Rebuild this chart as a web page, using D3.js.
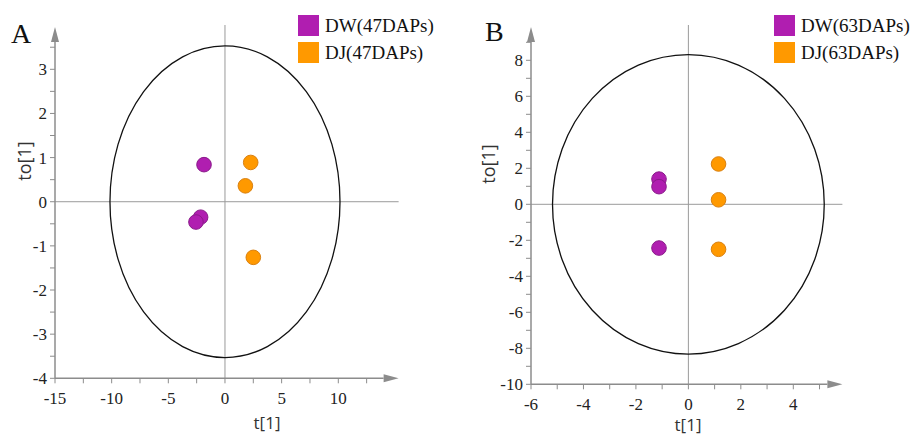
<!DOCTYPE html>
<html lang="en">
<head>
    <meta charset="UTF-8">
    <title>OPLS-DA score plots</title>
    <script src="https://d3js.org/d3.v7.min.js"></script>
    <style>
        body { margin: 0; background: #fff; }
        svg { display: block; }
    </style>
</head>
<body>
    <svg id="chart"></svg>

    <script>
        // Panel A: 47 DAPs scores
        const scoresA_DW = [[-1.85, 0.84], [-2.15, -0.35], [-2.56, -0.46]];
        const scoresA_DJ = [[2.27, 0.89], [1.80, 0.36], [2.50, -1.26]];
        const legendA = ["DW(47DAPs)", "DJ(47DAPs)"];
        const xTicksA = [-15, -10, -5, 0, 5, 10];
        const yTicksA = [-4, -3, -2, -1, 0, 1, 2, 3];
        const ellipseA = [10.15, 3.53];   // t[1], to[1] radii of Hotelling T2 ellipse

        // Panel B: 63 DAPs scores
        const scoresB_DW = [[-1.12, 1.40], [-1.12, 0.98], [-1.12, -2.43]];
        const scoresB_DJ = [[1.15, 2.24], [1.15, 0.25], [1.15, -2.50]];
        const legendB = ["DW(63DAPs)", "DJ(63DAPs)"];
        const xTicksB = [-6, -4, -2, 0, 2, 4];
        const yTicksB = [-10, -8, -6, -4, -2, 0, 2, 4, 6, 8];
        const ellipseB = [5.18, 8.32];

        const colors = ["#b01eb0", "#ff9900"];
        const strokes = ["#8a1a8a", "#d98010"];

        const width = 910, height = 437;
        const svg = d3.select("#chart").attr("width", width).attr("height", height);

        const panels = [
            {
                letter: "A", letterPos: [11, 43],
                xDomain: [-15, 10], xRange: [55, 338.3], xEnd: 14, xMinor: 2.5,
                yDomain: [-4, 3], yRange: [378.3, 69.3], yEnd: 3.5, yMinor: 0.5,
                xTicks: xTicksA, yTicks: yTicksA, ellipse: ellipseA,
                series: [scoresA_DW, scoresA_DJ], legend: legendA, legendX: 298,
                xTitle: [267, 429], yTitle: [25, 161]
            },
            {
                letter: "B", letterPos: [485, 41],
                xDomain: [-6, 4], xRange: [531, 793.3], xEnd: 5.3, xMinor: 1,
                yDomain: [-10, 8], yRange: [384.3, 60.3], yEnd: 9, yMinor: 1,
                xTicks: xTicksB, yTicks: yTicksB, ellipse: ellipseB,
                series: [scoresB_DW, scoresB_DJ], legend: legendB, legendX: 774,
                xTitle: [688, 431], yTitle: [489, 164]
            }
        ];

        panels.forEach(p => {
            const x = d3.scaleLinear().domain(p.xDomain).range(p.xRange);
            const y = d3.scaleLinear().domain(p.yDomain).range(p.yRange);
            const g = svg.append("g");
            const x0 = x(p.xDomain[0]), y0 = y(p.yDomain[0]);
            const axisColor = "#8c8c8c";

            // crosshair at origin
            const xAxisEnd = x(p.xEnd) + 15;
            g.append("line")
                .attr("x1", x(0)).attr("x2", x(0))
                .attr("y1", 25).attr("y2", y0)
                .attr("stroke", "#9a9a9a").attr("stroke-width", 1);
            g.append("line")
                .attr("x1", x0).attr("x2", xAxisEnd)
                .attr("y1", y(0)).attr("y2", y(0))
                .attr("stroke", "#9a9a9a").attr("stroke-width", 1);

            // ellipse
            g.append("ellipse")
                .attr("cx", x(0)).attr("cy", y(0))
                .attr("rx", x(p.ellipse[0]) - x(0))
                .attr("ry", y(0) - y(p.ellipse[1]))
                .attr("fill", "none").attr("stroke", "#111").attr("stroke-width", 1.3);

            // x axis line + arrow
            g.append("line")
                .attr("x1", x0).attr("x2", x(p.xEnd))
                .attr("y1", y0).attr("y2", y0)
                .attr("stroke", axisColor).attr("stroke-width", 1.5);
            g.append("path")
                .attr("d", `M${x(p.xEnd)},${y0 - 4}L${xAxisEnd},${y0}L${x(p.xEnd)},${y0 + 4}Z`)
                .attr("fill", axisColor);

            // y axis line + arrow
            const yTop = 42;
            g.append("line")
                .attr("x1", x0).attr("x2", x0)
                .attr("y1", y0).attr("y2", yTop)
                .attr("stroke", axisColor).attr("stroke-width", 1.5);
            g.append("path")
                .attr("d", `M${x0 - 4},${yTop}L${x0},${yTop - 15}L${x0 + 4},${yTop}Z`)
                .attr("fill", axisColor);

            // x ticks (major + minor)
            const xMinorTicks = d3.range(p.xDomain[0], p.xEnd + 1e-9, p.xMinor);
            g.selectAll(".xt").data(xMinorTicks).enter().append("line")
                .attr("x1", d => x(d)).attr("x2", d => x(d))
                .attr("y1", y0).attr("y2", y0 + 5)
                .attr("stroke", axisColor).attr("stroke-width", 1);
            g.selectAll(".xl").data(p.xTicks).enter().append("text")
                .attr("x", d => x(d)).attr("y", y0 + 26)
                .attr("text-anchor", "middle")
                .attr("font-family", "Liberation Serif, serif")
                .attr("font-size", "17px").attr("fill", "#222")
                .text(d => d);

            // y ticks (major + minor)
            const yMinorTicks = d3.range(p.yDomain[0], p.yEnd + 1e-9, p.yMinor);
            g.selectAll(".yt").data(yMinorTicks).enter().append("line")
                .attr("x1", x0 - 5).attr("x2", x0)
                .attr("y1", d => y(d)).attr("y2", d => y(d))
                .attr("stroke", axisColor).attr("stroke-width", 1);
            g.selectAll(".yl").data(p.yTicks).enter().append("text")
                .attr("x", x0 - 8).attr("y", d => y(d) + 6)
                .attr("text-anchor", "end")
                .attr("font-family", "Liberation Serif, serif")
                .attr("font-size", "17px").attr("fill", "#222")
                .text(d => d);

            // points
            p.series.forEach((s, i) => {
                g.selectAll(".pt" + i).data(s).enter().append("circle")
                    .attr("cx", d => x(d[0])).attr("cy", d => y(d[1]))
                    .attr("r", 7.3)
                    .attr("fill", colors[i]).attr("stroke", strokes[i]).attr("stroke-width", 1);
            });

            // axis titles
            g.append("text")
                .attr("x", p.xTitle[0]).attr("y", p.xTitle[1])
                .attr("text-anchor", "middle")
                .attr("font-family", "Open Sans, sans-serif")
                .attr("font-size", "17px").attr("fill", "#333")
                .text("t[1]");
            g.append("text")
                .attr("transform", `translate(${p.yTitle[0] + 6},${p.yTitle[1]}) rotate(-90)`)
                .attr("text-anchor", "middle")
                .attr("font-family", "Open Sans, sans-serif")
                .attr("font-size", "18px").attr("fill", "#333")
                .text("to[1]");

            // panel letter
            g.append("text")
                .attr("x", p.letterPos[0]).attr("y", p.letterPos[1])
                .attr("font-family", "Liberation Serif, serif")
                .attr("font-size", "28px").attr("fill", "#111")
                .text(p.letter);

            // legend
            p.legend.forEach((name, i) => {
                const ly = 15 + i * 27;
                g.append("rect")
                    .attr("x", p.legendX).attr("y", ly)
                    .attr("width", 21).attr("height", 21)
                    .attr("fill", colors[i]);
                g.append("text")
                    .attr("x", p.legendX + 27).attr("y", ly + 17)
                    .attr("font-family", "Liberation Serif, serif")
                    .attr("font-size", "19px").attr("fill", "#111")
                    .text(name);
            });
        });
    </script>
</body>
</html>
